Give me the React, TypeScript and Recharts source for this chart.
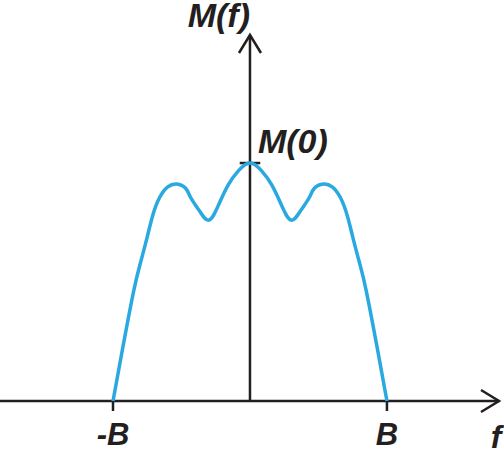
import { LineChart, Line, XAxis, YAxis, ReferenceLine } from "recharts";

// spectrum M(f) (f in units of B, M in units of M(0))
const freq = [
  -1.0, -0.93, -0.85, -0.8, -0.75, -0.71, -0.66, -0.6, -0.535, -0.47, -0.43, -0.37, -0.3, -0.23, -0.16, -0.085,
  0,
  0.085, 0.16, 0.23, 0.3, 0.37, 0.43, 0.47, 0.535, 0.6, 0.66, 0.71, 0.75, 0.8, 0.85, 0.93, 1.0,
];
const magnitude = [
  0.0, 0.22, 0.46, 0.58, 0.69, 0.78, 0.855, 0.9, 0.912, 0.894, 0.852, 0.8, 0.76, 0.823, 0.907, 0.967,
  1.0,
  0.967, 0.907, 0.823, 0.76, 0.8, 0.852, 0.894, 0.912, 0.9, 0.855, 0.78, 0.69, 0.58, 0.46, 0.22, 0.0,
];
const tickValues = [-1, 1];
const tickLabels = ["-B", "B"];

const data = freq.map((f, i) => ({ f, m: magnitude[i] }));

const INK = "#231f20";
const BLUE = "#29a9e0";
const font = {
  fontFamily: "'Liberation Sans', Arial, sans-serif",
  fontWeight: "bold" as const,
  fontStyle: "italic" as const,
  fill: INK,
};

// reference line drawn with an open arrowhead at its far end
const ArrowLine = (props: any) => {
  const { x1, y1, x2, y2 } = props;
  const vertical = Math.abs(x1 - x2) < 1;
  let head: string;
  if (vertical) {
    const tipY = Math.min(y1, y2);
    head = `M${x1 - 11},${tipY + 18} L${x1},${tipY} L${x1 + 11},${tipY + 18}`;
  } else {
    const tipX = Math.max(x1, x2);
    head = `M${tipX - 18},${y1 - 11} L${tipX},${y1} L${tipX - 18},${y1 + 11}`;
  }
  return (
    <g>
      <line x1={x1} y1={y1} x2={x2} y2={y2} stroke={INK} strokeWidth={2.5} />
      <path d={head} fill="none" stroke={INK} strokeWidth={2.5} />
    </g>
  );
};

export default function App() {
  return (
    <div style={{ position: "absolute", left: 0, top: 0, background: "#fff" }}>
      <LineChart
        width={504}
        height={450}
        data={data}
        margin={{ top: 35, right: 5, bottom: 0, left: 0 }}
      >
        <XAxis
          dataKey="f"
          type="number"
          domain={[-1.825, 1.818]}
          allowDataOverflow
          ticks={tickValues}
          interval={0}
          tickFormatter={(v: number) => tickLabels[tickValues.indexOf(v)]}
          height={49}
          axisLine={false}
          stroke={INK}
          tickLine={{ stroke: INK, strokeWidth: 2.5 }}
          tickSize={10}
          tickMargin={12}
          tick={{ ...font, fontSize: 31 }}
        />
        <YAxis hide type="number" domain={[0, 1.538]} allowDataOverflow />
        <ReferenceLine
          y={0}
          shape={ArrowLine}
          label={(p: any) => (
            <text x={p.viewBox.x + p.viewBox.width - 3} y={448} textAnchor="middle" {...font} fontSize={32}>
              f
            </text>
          )}
        />
        <ReferenceLine
          x={0}
          shape={ArrowLine}
          label={(p: any) => (
            <text x={p.viewBox.x} y={p.viewBox.y - 8} textAnchor="end" {...font} fontSize={34}>
              M(f)
            </text>
          )}
        />
        <ReferenceLine
          segment={[
            { x: -0.075, y: 1 },
            { x: 0.075, y: 1 },
          ]}
          stroke={INK}
          strokeWidth={2.5}
          label={(p: any) => (
            <text x={p.viewBox.x + p.viewBox.width / 2 + 8} y={p.viewBox.y - 10} textAnchor="start" {...font} fontSize={34}>
              M(0)
            </text>
          )}
        />
        <Line
          dataKey="m"
          type="natural"
          stroke={BLUE}
          strokeWidth={3.5}
          dot={false}
          isAnimationActive={false}
        />
      </LineChart>
    </div>
  );
}
